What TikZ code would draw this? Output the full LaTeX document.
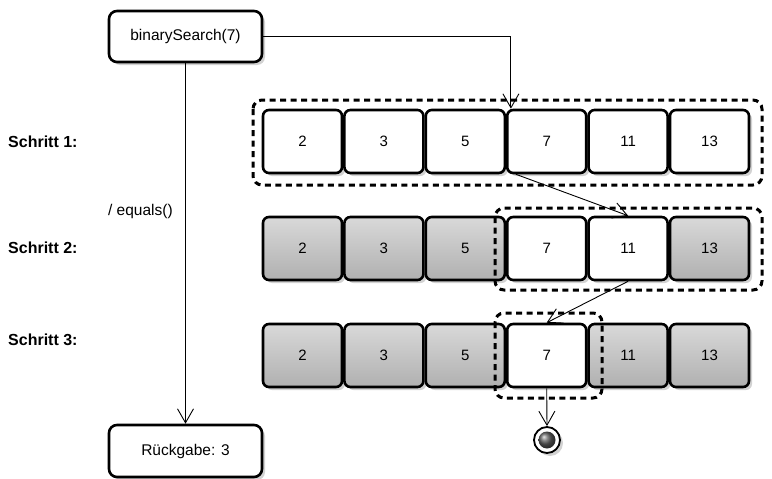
\documentclass[tikz,border=0pt]{standalone}
\usepackage{fontspec}
\setmainfont{Liberation Sans}
\usetikzlibrary{arrows.meta,shadows,calc}
\begin{document}
\begin{tikzpicture}[x=1pt,y=-1pt,
  shad/.style={drop shadow={shadow xshift=3pt,shadow yshift=-3pt,fill=gray!70,opacity=0.5}},
  cellbox/.style={draw=black,line width=2.6pt,rounded corners=6pt,minimum width=79pt,minimum height=63pt,inner sep=0pt,font=\fontsize{15}{17}\selectfont,shad},
  whitecell/.style={cellbox,fill=white},
  graycell/.style={cellbox,top color=gray!30,bottom color=gray!62},
  actbox/.style={draw=black,line width=2.6pt,rounded corners=8pt,minimum width=153pt,minimum height=51pt,inner sep=0pt,fill=white,font=\fontsize{15.5}{18}\selectfont,shad},
  steplabel/.style={anchor=west,inner sep=0pt,font=\fontsize{16}{18}\selectfont\bfseries},
  dashbox/.style={draw=black,line width=3pt,dash pattern=on 6pt off 4.5pt,rounded corners=9pt},
  arr/.style={line width=0.9pt,-{Straight Barb[length=14pt,width=16pt,line width=0.9pt]}}
]
\useasboundingbox (0,0) rectangle (772,479);
\fill[white] (0,0) rectangle (772,479);

% activity boxes
\node[actbox] (bs) at (185.5,36.5) {binarySearch(7)};
\node[actbox,minimum height=52pt] (rk) at (185.5,451) {Rückgabe: 3};

% step labels
\node[steplabel] (s1) at (8,142) {Schritt 1:};
\node[steplabel] (s2) at (8,248) {Schritt 2:};
\node[steplabel] (s3) at (8,340) {Schritt 3:};

% row 1
\foreach \v [count=\i] in {2,3,5,7,11,13}
  \node[whitecell] (r1c\i) at ({302.5+81.4*(\i-1)},141.5) {\v};
% row 2
\foreach \v/\s [count=\i] in {2/graycell,3/graycell,5/graycell,7/whitecell,11/whitecell,13/graycell}
  \node[\s] (r2c\i) at ({302.5+81.4*(\i-1)},248.5) {\v};
% row 3
\foreach \v/\s [count=\i] in {2/graycell,3/graycell,5/graycell,7/whitecell,11/graycell,13/graycell}
  \node[\s] (r3c\i) at ({302.5+81.4*(\i-1)},355.5) {\v};

% dashed selection boxes
\draw[dashbox] (253,100) rectangle (762,185);
\draw[dashbox] (495,208) rectangle (762,290);
\draw[dashbox] (495,313) rectangle (602,398);

% final node
\node[circle,draw=black,line width=1.8pt,minimum size=26pt,inner sep=0pt,fill=white,shad] (end) at (547,440) {};
\node[circle,minimum size=17pt,inner sep=0pt,shading=ball,ball color=gray!75!black] (endin) at (end.center) {};

% connectors
\draw[arr] (bs.south) -- node[pos=0.41,left=9pt,font=\fontsize{15.5}{18}\selectfont] {/ equals()} (rk.north);
\draw[arr] (bs.east) -| ($(r1c4.north west)+(5,0)$);
\draw[arr] ($(r1c4.south west)+(10,0)$) -- (r2c5.north);
\draw[arr] (r2c5.south) -- (r3c4.north);
\draw[arr] (r3c4.south) -- (end.north);
\end{tikzpicture}
\end{document}
